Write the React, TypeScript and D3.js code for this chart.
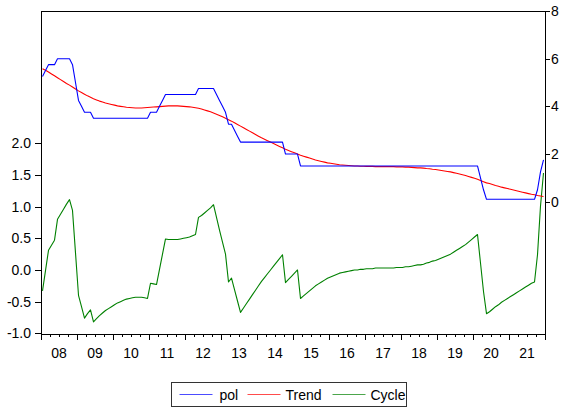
import React from "react";
import * as d3 from "d3";

// Monthly observations, 2008M01 .. 2021M12
const yearLabels = ["08", "09", "10", "11", "12", "13", "14", "15", "16", "17", "18", "19", "20", "21"];

// Policy rate (right axis)
const pol = [
  5.25, 5.5, 5.75, 5.75, 5.75, 6, 6, 6, 6, 6, 5.75, 5,
  4.25, 4, 3.75, 3.75, 3.75, 3.5, 3.5, 3.5, 3.5, 3.5, 3.5, 3.5,
  3.5, 3.5, 3.5, 3.5, 3.5, 3.5, 3.5, 3.5, 3.5, 3.5, 3.5, 3.5,
  3.75, 3.75, 3.75, 4, 4.25, 4.5, 4.5, 4.5, 4.5, 4.5, 4.5, 4.5,
  4.5, 4.5, 4.5, 4.5, 4.75, 4.75, 4.75, 4.75, 4.75, 4.75, 4.5, 4.25,
  4, 3.75, 3.25, 3.25, 3, 2.75, 2.5, 2.5, 2.5, 2.5, 2.5, 2.5,
  2.5, 2.5, 2.5, 2.5, 2.5, 2.5, 2.5, 2.5, 2.5, 2, 2, 2,
  2, 2, 1.5, 1.5, 1.5, 1.5, 1.5, 1.5, 1.5, 1.5, 1.5, 1.5,
  1.5, 1.5, 1.5, 1.5, 1.5, 1.5, 1.5, 1.5, 1.5, 1.5, 1.5, 1.5,
  1.5, 1.5, 1.5, 1.5, 1.5, 1.5, 1.5, 1.5, 1.5, 1.5, 1.5, 1.5,
  1.5, 1.5, 1.5, 1.5, 1.5, 1.5, 1.5, 1.5, 1.5, 1.5, 1.5, 1.5,
  1.5, 1.5, 1.5, 1.5, 1.5, 1.5, 1.5, 1.5, 1.5, 1.5, 1.5, 1.5,
  1.5, 1.5, 1, 0.5, 0.1, 0.1, 0.1, 0.1, 0.1, 0.1, 0.1, 0.1,
  0.1, 0.1, 0.1, 0.1, 0.1, 0.1, 0.1, 0.1, 0.1, 0.5, 1.25, 1.75,
];

// Smoothed trend (right axis)
const trend = [
  5.58, 5.51, 5.44, 5.36, 5.28, 5.2, 5.12, 5.04, 4.96, 4.89, 4.81, 4.73,
  4.65, 4.58, 4.51, 4.44, 4.38, 4.32, 4.27, 4.22, 4.18, 4.14, 4.11, 4.08,
  4.05, 4.02, 4.0, 3.98, 3.96, 3.95, 3.94, 3.93, 3.93, 3.93, 3.94, 3.95,
  3.96, 3.97, 3.98, 3.99, 4.0, 4.01, 4.02, 4.02, 4.02, 4.02, 4.01, 4.0,
  3.99, 3.98, 3.96, 3.94, 3.92, 3.89, 3.85, 3.81, 3.77, 3.72, 3.67, 3.62,
  3.56, 3.5, 3.44, 3.38, 3.31, 3.24, 3.17, 3.1, 3.03, 2.96, 2.89, 2.82,
  2.75, 2.68, 2.62, 2.56, 2.5, 2.44, 2.38, 2.32, 2.26, 2.2, 2.15, 2.1,
  2.05, 2.0, 1.95, 1.91, 1.87, 1.83, 1.79, 1.75, 1.72, 1.69, 1.66, 1.63,
  1.61, 1.59, 1.57, 1.55, 1.54, 1.53, 1.52, 1.51, 1.5, 1.5, 1.49, 1.49,
  1.48, 1.48, 1.48, 1.47, 1.47, 1.47, 1.47, 1.47, 1.47, 1.47, 1.46, 1.46,
  1.46, 1.45, 1.45, 1.44, 1.43, 1.42, 1.42, 1.41, 1.39, 1.38, 1.36, 1.35,
  1.33, 1.31, 1.29, 1.27, 1.25, 1.22, 1.19, 1.16, 1.13, 1.1, 1.06, 1.02,
  0.98, 0.94, 0.89, 0.84, 0.79, 0.76, 0.72, 0.68, 0.65, 0.61, 0.58, 0.55,
  0.52, 0.49, 0.46, 0.43, 0.4, 0.37, 0.34, 0.31, 0.29, 0.26, 0.24, 0.22,
];

// Cyclical component (left axis)
const cycle = [
  -0.33, -0.01, 0.31, 0.39, 0.47, 0.8, 0.88, 0.96, 1.04, 1.11, 0.94, 0.27,
  -0.4, -0.58, -0.76, -0.69, -0.63, -0.82, -0.77, -0.72, -0.68, -0.64, -0.61, -0.58,
  -0.55, -0.52, -0.5, -0.48, -0.46, -0.45, -0.44, -0.43, -0.43, -0.43, -0.44, -0.45,
  -0.21, -0.22, -0.23, 0.01, 0.25, 0.49, 0.48, 0.48, 0.48, 0.48, 0.49, 0.5,
  0.51, 0.52, 0.54, 0.56, 0.83, 0.86, 0.9, 0.94, 0.98, 1.03, 0.83, 0.63,
  0.44, 0.25, -0.19, -0.13, -0.31, -0.49, -0.67, -0.6, -0.53, -0.46, -0.39, -0.32,
  -0.25, -0.18, -0.12, -0.06, 0.0, 0.06, 0.12, 0.18, 0.24, -0.2, -0.15, -0.1,
  -0.05, 0.0, -0.45, -0.41, -0.37, -0.33, -0.29, -0.25, -0.22, -0.19, -0.16, -0.13,
  -0.11, -0.09, -0.07, -0.05, -0.04, -0.03, -0.02, -0.01, 0.0, 0.0, 0.01, 0.01,
  0.02, 0.02, 0.02, 0.03, 0.03, 0.03, 0.03, 0.03, 0.03, 0.03, 0.04, 0.04,
  0.04, 0.05, 0.05, 0.06, 0.07, 0.08, 0.08, 0.09, 0.11, 0.12, 0.14, 0.15,
  0.17, 0.19, 0.21, 0.23, 0.25, 0.28, 0.31, 0.34, 0.37, 0.4, 0.44, 0.48,
  0.52, 0.56, 0.11, -0.34, -0.69, -0.66, -0.62, -0.58, -0.55, -0.51, -0.48, -0.45,
  -0.42, -0.39, -0.36, -0.33, -0.3, -0.27, -0.24, -0.21, -0.19, 0.24, 1.01, 1.53,
];

const leftTicks = [-1.0, -0.5, 0.0, 0.5, 1.0, 1.5, 2.0];
const rightTicks = [0, 2, 4, 6, 8];

const legendItems = [
  { label: "pol", color: "#0000ff" },
  { label: "Trend", color: "#ff0000" },
  { label: "Cycle", color: "#008000" },
];

const W = 562;
const H = 411;
const plot = { left: 41, right: 545, top: 11, bottom: 334 };
const FONT = "'Liberation Sans', Arial, Helvetica, sans-serif";

export default function App() {
  const n = pol.length;
  const x = d3.scaleLinear().domain([0, n]).range([plot.left, plot.right]);
  const yL = d3.scaleLinear().domain([-1, 2]).range([333.3, 143.3]);
  const yR = d3.scaleLinear().domain([0, 8]).range([201.7, 11]);

  const lineR = d3
    .line<number>()
    .x((_, i) => x(i + 0.5))
    .y((d) => yR(d));
  const lineL = d3
    .line<number>()
    .x((_, i) => x(i + 0.5))
    .y((d) => yL(d));

  const years = yearLabels.length;
  const majorTicks = d3.range(years + 1).map((k) => x(k * 12));
  const minorTicks = d3
    .range(years)
    .flatMap((k) => [3, 6, 9].map((m) => x(k * 12 + m)));

  const legend = { x: 171.5, y: 382.5, w: 235, h: 24 };
  const legendOffsets = [8, 76, 161];
  const textOffsets = [48, 114, 199];

  return (
    <svg
      width={W}
      height={H}
      style={{ position: "absolute", left: 0, top: 0, background: "#fff" }}
      fontFamily={FONT}
    >
      <defs>
        <clipPath id="plot-area">
          <rect
            x={plot.left}
            y={plot.top}
            width={plot.right - plot.left}
            height={plot.bottom - plot.top}
          />
        </clipPath>
      </defs>
      <rect x={0} y={0} width={W} height={H} fill="#fff" />

      {/* series */}
      <g clipPath="url(#plot-area)" fill="none" strokeWidth={1.1} strokeLinejoin="round">
        <path d={lineL(cycle) ?? ""} stroke="#008000" />
        <path d={lineR(trend) ?? ""} stroke="#ff0000" />
        <path d={lineR(pol) ?? ""} stroke="#0000ff" />
      </g>

      {/* frame */}
      <rect
        x={plot.left}
        y={plot.top}
        width={plot.right - plot.left}
        height={plot.bottom - plot.top}
        fill="none"
        stroke="#000"
        strokeWidth={1}
        shapeRendering="crispEdges"
      />

      {/* left axis */}
      <g shapeRendering="crispEdges">
        {leftTicks.map((t) => (
          <line
            key={`lt${t}`}
            x1={plot.left - 6}
            x2={plot.left}
            y1={Math.round(yL(t)) + 0.5}
            y2={Math.round(yL(t)) + 0.5}
            stroke="#000"
          />
        ))}
      </g>
      {leftTicks.map((t) => (
        <text
          key={`ll${t}`}
          x={plot.left - 10}
          y={yL(t)}
          dy="0.35em"
          textAnchor="end"
          fontSize={14}
          fill="#000"
        >
          {t.toFixed(1)}
        </text>
      ))}

      {/* right axis */}
      <g shapeRendering="crispEdges">
        {rightTicks.map((t) => (
          <line
            key={`rt${t}`}
            x1={plot.right}
            x2={plot.right + 5}
            y1={Math.round(yR(t)) + 0.5}
            y2={Math.round(yR(t)) + 0.5}
            stroke="#000"
          />
        ))}
      </g>
      {rightTicks.map((t) => (
        <text
          key={`rl${t}`}
          x={plot.right + 6}
          y={yR(t)}
          dy="0.35em"
          textAnchor="start"
          fontSize={14}
          fill="#000"
        >
          {t}
        </text>
      ))}

      {/* bottom axis */}
      <g shapeRendering="crispEdges" stroke="#000">
        {majorTicks.map((px, k) => (
          <line key={`mj${k}`} x1={px} x2={px} y1={plot.bottom} y2={plot.bottom + 6} />
        ))}
        {minorTicks.map((px, k) => (
          <line key={`mn${k}`} x1={px} x2={px} y1={plot.bottom} y2={plot.bottom + 3} />
        ))}
      </g>
      {yearLabels.map((lab, k) => (
        <text
          key={`yl${lab}`}
          x={x(k * 12 + 6)}
          y={358}
          textAnchor="middle"
          fontSize={14}
          fill="#000"
        >
          {lab}
        </text>
      ))}

      {/* legend */}
      <rect
        x={legend.x}
        y={legend.y}
        width={legend.w}
        height={legend.h}
        fill="#fff"
        stroke="#333"
        shapeRendering="crispEdges"
      />
      {legendItems.map((it, k) => (
        <g key={it.label}>
          <line
            x1={legend.x + legendOffsets[k]}
            x2={legend.x + legendOffsets[k] + 33}
            y1={legend.y + legend.h / 2}
            y2={legend.y + legend.h / 2}
            stroke={it.color}
            strokeOpacity={0.7}
            strokeWidth={1}
          />
          <text
            x={legend.x + textOffsets[k]}
            y={legend.y + legend.h / 2}
            dy="0.36em"
            fontSize={14}
            fill="#000"
          >
            {it.label}
          </text>
        </g>
      ))}
    </svg>
  );
}
